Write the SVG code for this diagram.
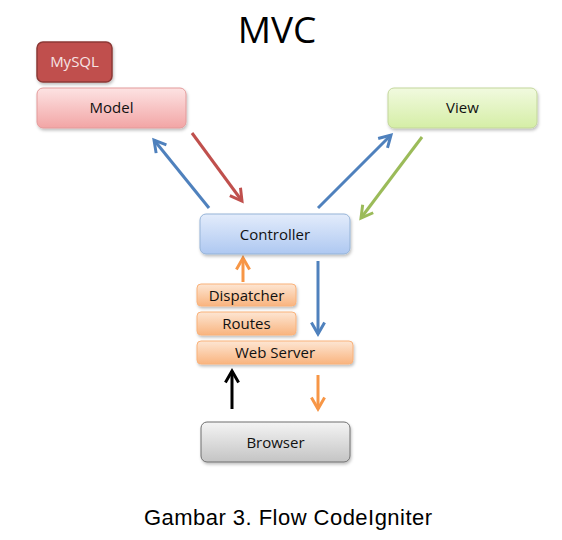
<svg xmlns="http://www.w3.org/2000/svg" width="562" height="540" viewBox="0 0 562 540">
<style>
.lbl{font-family:"Open Sans","Liberation Sans",sans-serif;font-size:15px;font-weight:500;fill:#111;text-anchor:middle}
.con{fill:none;stroke-width:3}
</style>
<defs>
<filter id="sh" x="-10%" y="-20%" width="120%" height="150%"><feDropShadow dx="1" dy="2" stdDeviation="1.5" flood-color="#000" flood-opacity="0.25"/></filter>
<linearGradient id="gRed" x1="0" y1="0" x2="0" y2="1"><stop offset="0" stop-color="#fde3e3"/><stop offset="1" stop-color="#f2a5a5"/></linearGradient>
<linearGradient id="gGreen" x1="0" y1="0" x2="0" y2="1"><stop offset="0" stop-color="#f1fadf"/><stop offset="1" stop-color="#d5eea6"/></linearGradient>
<linearGradient id="gBlue" x1="0" y1="0" x2="0" y2="1"><stop offset="0" stop-color="#e3ecfb"/><stop offset="1" stop-color="#aec8f1"/></linearGradient>
<linearGradient id="gOrange" x1="0" y1="0" x2="0" y2="1"><stop offset="0" stop-color="#fde6d3"/><stop offset="1" stop-color="#f9b47f"/></linearGradient>
<linearGradient id="gGray" x1="0" y1="0" x2="0" y2="1"><stop offset="0" stop-color="#f4f4f4"/><stop offset="1" stop-color="#c4c4c4"/></linearGradient>
<marker id="aBlue" viewBox="0 0 10 10" refX="8" refY="5" markerWidth="5.5" markerHeight="5.5" orient="auto" markerUnits="strokeWidth"><path d="M1,1 L8,5 L1,9" fill="none" stroke="#4f81bd" stroke-width="1.8"/></marker>
<marker id="aRed" viewBox="0 0 10 10" refX="8" refY="5" markerWidth="5.5" markerHeight="5.5" orient="auto" markerUnits="strokeWidth"><path d="M1,1 L8,5 L1,9" fill="none" stroke="#c0504d" stroke-width="1.8"/></marker>
<marker id="aGreen" viewBox="0 0 10 10" refX="8" refY="5" markerWidth="5.5" markerHeight="5.5" orient="auto" markerUnits="strokeWidth"><path d="M1,1 L8,5 L1,9" fill="none" stroke="#9bbb59" stroke-width="1.8"/></marker>
<marker id="aOrange" viewBox="0 0 10 10" refX="8" refY="5" markerWidth="5.5" markerHeight="5.5" orient="auto" markerUnits="strokeWidth"><path d="M1,1 L8,5 L1,9" fill="none" stroke="#f79646" stroke-width="1.8"/></marker>
<marker id="aBlack" viewBox="0 0 10 10" refX="8" refY="5" markerWidth="5.5" markerHeight="5.5" orient="auto" markerUnits="strokeWidth"><path d="M1,1 L8,5 L1,9" fill="none" stroke="#000" stroke-width="1.8"/></marker>
</defs>
<rect width="562" height="540" fill="#fff"/>
<text x="277" y="43" font-family="'Open Sans','Liberation Sans',sans-serif" font-size="37" text-anchor="middle" fill="#000">MVC</text>

<g id="connectors">
<line class="con" stroke="#4f81bd" x1="209" y1="208" x2="154" y2="140" marker-end="url(#aBlue)"/>
<line class="con" stroke="#c0504d" x1="192" y1="133" x2="242" y2="201" marker-end="url(#aRed)"/>
<line class="con" stroke="#4f81bd" x1="318" y1="208" x2="391" y2="135" marker-end="url(#aBlue)"/>
<line class="con" stroke="#9bbb59" x1="422" y1="137" x2="361" y2="218" marker-end="url(#aGreen)"/>
<line class="con" stroke="#f79646" x1="243" y1="282" x2="243" y2="258" marker-end="url(#aOrange)"/>
<line class="con" stroke="#4f81bd" x1="318" y1="261" x2="318" y2="334" marker-end="url(#aBlue)"/>
<line class="con" stroke="#000" x1="232" y1="409" x2="232" y2="371" marker-end="url(#aBlack)"/>
<line class="con" stroke="#f79646" x1="318" y1="375" x2="318" y2="409" marker-end="url(#aOrange)"/>
</g>

<g id="mysql"><rect x="37" y="42" width="75" height="40" rx="6" fill="#c0504d" stroke="#8c3836" stroke-width="1.5" filter="url(#sh)"/><text class="lbl" x="74.5" y="67" style="fill:#f7e4e4;font-weight:400">MySQL</text></g>
<g id="model"><rect x="37" y="88" width="149" height="40" rx="6" fill="url(#gRed)" stroke="#e39a9a" filter="url(#sh)"/><text class="lbl" x="111.5" y="113">Model</text></g>
<g id="view"><rect x="388" y="88" width="149" height="40" rx="6" fill="url(#gGreen)" stroke="#c3d69b" filter="url(#sh)"/><text class="lbl" x="462.5" y="113">View</text></g>
<g id="controller"><rect x="200" y="214" width="150" height="40" rx="6" fill="url(#gBlue)" stroke="#95b3d7" filter="url(#sh)"/><text class="lbl" x="275" y="239.5">Controller</text></g>
<g id="dispatcher"><rect x="197" y="284" width="99" height="22" rx="4" fill="url(#gOrange)" stroke="#f9b27b" filter="url(#sh)"/><text class="lbl" x="246.5" y="300.5">Dispatcher</text></g>
<g id="routes"><rect x="197" y="312" width="99" height="23" rx="4" fill="url(#gOrange)" stroke="#f9b27b" filter="url(#sh)"/><text class="lbl" x="246.5" y="329">Routes</text></g>
<g id="webserver"><rect x="197" y="341" width="156" height="23" rx="4" fill="url(#gOrange)" stroke="#f9b27b" filter="url(#sh)"/><text class="lbl" x="275" y="358">Web Server</text></g>
<g id="browser"><rect x="201" y="422" width="149" height="40" rx="6" fill="url(#gGray)" stroke="#6f6f6f" filter="url(#sh)"/><text class="lbl" x="275.5" y="447.5">Browser</text></g>

<text x="288" y="525" font-family="'Liberation Sans',Arial,sans-serif" font-size="22" text-anchor="middle" fill="#000" textLength="288" lengthAdjust="spacing">Gambar 3. Flow CodeIgniter</text>
</svg>
